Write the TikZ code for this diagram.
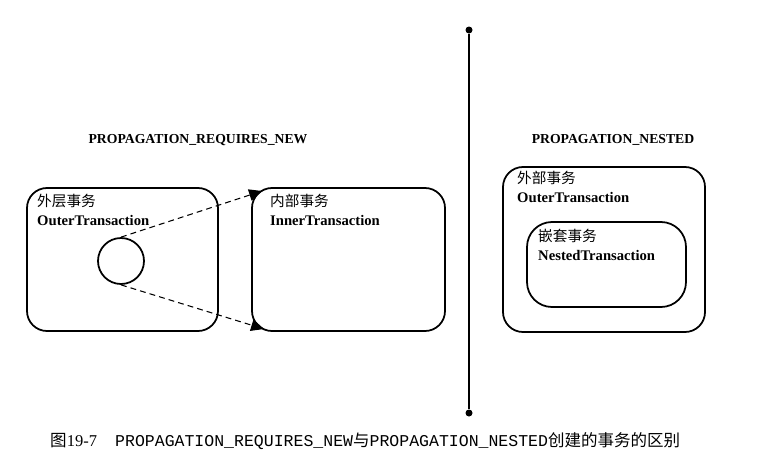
\documentclass[tikz,border=0pt]{standalone}
\usepackage{fontspec}
\setmainfont{Liberation Serif}
\setmonofont{Liberation Mono}
\newfontfamily\cjk{Noto Sans CJK SC}
\usepackage{tikz}
\usetikzlibrary{arrows.meta,shapes}

\begin{document}
\begin{tikzpicture}[x=0.03cm, y=-0.03cm]
	\tikzstyle{every node} = [rectangle]
	\tikzstyle{txbox} = [draw, line width=1.5pt, rounded corners=0.6cm]
	\tikzstyle{txlabel} = [anchor=north west, inner sep=0pt, align=left, font=\fontsize{12.5}{16}\selectfont]
	\tikzstyle{title} = [inner sep=0pt, font=\fontsize{11.7}{14}\selectfont\bfseries]
	\tikzstyle{call} = [dash pattern=on 5pt off 3.5pt, line width=0.9pt, -{Triangle[length=11pt,width=10pt]}]
	\useasboundingbox (0,0) rectangle (767,467);
	% left side
	\node[title] (reqnew) at (198,140) {PROPAGATION\_REQUIRES\_NEW};
	\node[txbox, minimum width=5.73cm, minimum height=4.29cm] (outer) at (122.5,259.5) {};
	\node[txbox, minimum width=5.79cm, minimum height=4.29cm] (inner) at (348.5,259.5) {};
	\node[txlabel] (outerlbl) at (37,194) {{\cjk 外层事务}\\\textbf{OuterTransaction}};
	\node[txlabel] (innerlbl) at (270,194) {{\cjk 内部事务}\\\textbf{InnerTransaction}};
	\node[draw, circle, line width=1.5pt, minimum size=1.38cm] (sub) at (121,261) {};
	\coordinate (tiptop) at (262,191);
	\coordinate (tipbot) at (264,329);
	\draw[call] (sub.north) -- (tiptop);
	\draw[call] (sub.south) -- (tipbot);
	% divider
	\node[circle, fill, inner sep=0pt, minimum size=0.21cm] (top) at (469,30) {};
	\node[circle, fill, inner sep=0pt, minimum size=0.21cm] (bot) at (469,413) {};
	\draw[line width=1.5pt] (top) -- (bot);
	% right side
	\node[title] (nested) at (613,140) {PROPAGATION\_NESTED};
	\node[txbox, minimum width=6.06cm, minimum height=4.95cm] (nouter) at (604,249.5) {};
	\node[txlabel] (nouterlbl) at (517,171) {{\cjk 外部事务}\\\textbf{OuterTransaction}};
	\node[txbox, rounded corners=0.75cm, minimum width=4.77cm, minimum height=2.55cm] (ninner) at (606.5,264.5) {};
	\node[txlabel] (ninnerlbl) at (538,229) {{\cjk 嵌套事务}\\\textbf{NestedTransaction}};
	% caption
	\node[anchor=west, inner sep=0pt, font=\fontsize{14.1}{16}\selectfont] (caption) at (50,441)
		{{\cjk 图}19-7\hspace{1.1em}\texttt{PROPAGATION\_REQUIRES\_NEW}{\cjk 与}\texttt{PROPAGATION\_NESTED}{\cjk 创建的事务的区别}};
\end{tikzpicture}
\end{document}
